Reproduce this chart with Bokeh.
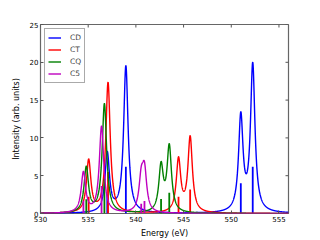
import numpy as np
from bokeh.plotting import figure
from bokeh.models import Range1d, FixedTicker, ColumnDataSource, Legend, LegendItem
from bokeh.embed import file_html
from bokeh.resources import INLINE

# ---- data ----
series_names = ["CD", "CT", "CQ", "C5"]
series_colors = ["#0000ff", "#ff0000", "#008000", "#bf00bf"]

cd_pos = [537.0, 538.95, 551.0, 552.25]
cd_h = [2.5, 6.2, 4.0, 6.2]
ct_pos = [535.05, 537.08, 544.47, 545.69]
ct_h = [2.2, 5.5, 2.23, 3.17]
cq_pos = [534.8, 536.7, 542.64, 543.5]
cq_h = [1.9, 4.6, 1.92, 2.76]
c5_pos = [534.5, 536.4, 540.56, 540.9]
c5_h = [1.7, 3.65, 1.3, 1.65]

x_ticks = [530, 535, 540, 545, 550, 555]
y_ticks = [0, 5, 10, 15, 20, 25]
x_lim = (530, 556)
y_lim = (0, 25)

# broadening of the stick spectra (Lorentzian)
gamma = 0.28
scale = 3.13

FONT = "DejaVu Sans"
TICK_COL = "#555555"

p = figure(width=320, height=240, x_range=Range1d(*x_lim), y_range=Range1d(*y_lim),
           output_backend="svg", toolbar_location=None,
           min_border_left=40, min_border_right=32, min_border_top=24, min_border_bottom=24)
p.grid.visible = False
p.outline_line_color = "#666666"
p.outline_line_width = 1.2
p.background_fill_color = "white"
p.border_fill_color = "white"

p.xaxis.ticker = FixedTicker(ticks=x_ticks)
p.yaxis.ticker = FixedTicker(ticks=y_ticks)
p.xaxis.axis_label = "Energy (eV)"
p.yaxis.axis_label = "Intensity (arb. units)"
for ax in p.xaxis + p.yaxis:
    ax.major_tick_in = 3
    ax.major_tick_out = 0
    ax.minor_tick_in = 0
    ax.minor_tick_out = 0
    ax.axis_line_color = None
    ax.major_tick_line_color = TICK_COL
    ax.major_label_text_font = FONT
    ax.major_label_text_color = "black"
    ax.major_label_text_font_size = "7px"
    ax.major_label_standoff = 2
    ax.axis_label_text_font = FONT
    ax.axis_label_text_font_style = "normal"
    ax.axis_label_text_color = "black"
    ax.axis_label_text_font_size = "8px"
p.xaxis.axis_label_standoff = 4
p.yaxis.axis_label_standoff = 6

# inward ticks on the top and right edges of the frame
p.ray(x=x_ticks, y=[y_lim[1]] * len(x_ticks), length=3, length_units="screen",
      angle=-np.pi / 2, line_color=TICK_COL, line_width=1)
p.ray(x=[x_lim[1]] * len(y_ticks), y=y_ticks, length=3, length_units="screen",
      angle=np.pi, line_color=TICK_COL, line_width=1)

xs = np.linspace(x_lim[0], x_lim[1], 2601)
all_pos = [cd_pos, ct_pos, cq_pos, c5_pos]
all_h = [cd_h, ct_h, cq_h, c5_h]

items = []
for name, col, pos, h in zip(series_names, series_colors, all_pos, all_h):
    ys = np.zeros_like(xs)
    for x0, hh in zip(pos, h):
        ys += scale * hh * gamma ** 2 / ((xs - x0) ** 2 + gamma ** 2)
    r = p.line(xs, ys, line_color=col, line_width=1.4)
    src = ColumnDataSource(dict(x=pos, y0=[0] * len(pos), y1=h))
    p.segment(x0="x", y0="y0", x1="x", y1="y1", source=src, line_color=col, line_width=1.8)
    items.append(LegendItem(label=name, renderers=[r]))

legend = Legend(items=items, location="top_left")
legend.margin = 4
legend.padding = 3
legend.spacing = 1
legend.label_height = 11
legend.label_width = 11
legend.glyph_height = 11
legend.glyph_width = 13
legend.label_standoff = 9
legend.label_text_font = FONT
legend.label_text_font_size = "7.5px"
legend.border_line_color = "#555555"
legend.border_line_width = 1
legend.background_fill_alpha = 1
p.add_layout(legend)

open("out.html", "w").write(file_html(p, INLINE))
